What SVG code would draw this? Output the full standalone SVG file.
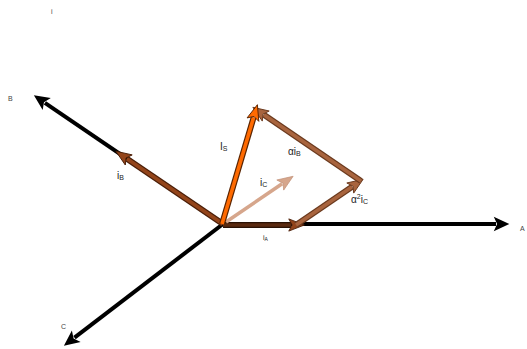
<svg xmlns="http://www.w3.org/2000/svg" width="527" height="349" viewBox="0 0 527 349">
<style>
.ax{stroke:#000;stroke-width:4;fill:none}
.out{stroke-width:6;fill:none;stroke-linecap:butt}
.in{stroke-width:3.6;fill:none;stroke-linecap:butt}
text{font-family:"Liberation Sans",Arial,sans-serif;fill:#222}
.lb{font-size:10px}
.sb{font-size:7px}
.tiny{font-size:7px;fill:#444}
</style>
<defs>
<marker id="mk" markerUnits="userSpaceOnUse" markerWidth="20" markerHeight="20" refX="0" refY="0" viewBox="-4 -8 18 16" orient="auto" overflow="visible">
<path d="M-2,-6.5 L12,0 L-2,6.5 L1,0 Z" fill="#000"/>
</marker>
<marker id="mbr" markerUnits="userSpaceOnUse" markerWidth="20" markerHeight="20" refX="0" refY="0" viewBox="-4 -8 18 16" orient="auto" overflow="visible">
<path d="M-2,-5.5 L12,0 L-2,5.5 L1,0 Z" fill="#A8643E" stroke="#6B3A1E" stroke-width="0.8"/>
</marker>
<marker id="mdk" markerUnits="userSpaceOnUse" markerWidth="20" markerHeight="20" refX="0" refY="0" viewBox="-4 -8 18 16" orient="auto" overflow="visible">
<path d="M-2,-5.5 L12,0 L-2,5.5 L1,0 Z" fill="#93441A" stroke="#4A1E08" stroke-width="0.8"/>
</marker>
<marker id="mor" markerUnits="userSpaceOnUse" markerWidth="20" markerHeight="20" refX="0" refY="0" viewBox="-4 -8 18 16" orient="auto" overflow="visible">
<path d="M-2,-5.5 L12,0 L-2,5.5 L1,0 Z" fill="#FF6A00" stroke="#5A2400" stroke-width="0.8"/>
</marker>
<marker id="mlt" markerUnits="userSpaceOnUse" markerWidth="20" markerHeight="20" refX="0" refY="0" viewBox="-4 -8 18 16" orient="auto" overflow="visible">
<path d="M-2,-5.5 L12,0 L-2,5.5 L1,0 Z" fill="#D6A68C" stroke="#C09078" stroke-width="0.6"/>
</marker>
</defs>
<g id="connectors">
<g id="axes">
<line class="ax" x1="223" y1="224" x2="496" y2="224" marker-end="url(#mk)"/>
<line class="ax" x1="223" y1="224" x2="44.9" y2="102.8" marker-end="url(#mk)"/>
<line class="ax" x1="223" y1="224" x2="74.5" y2="337.7" marker-end="url(#mk)"/>
</g>
<g id="iA">
<line class="out" stroke="#2a1205" x1="223" y1="225" x2="291" y2="225"/>
<line class="in" stroke="#5a2a10" x1="223" y1="225" x2="291" y2="225" marker-end="url(#mdk)"/>
</g>
<g id="iB">
<line class="out" stroke="#4A1E08" x1="223" y1="224" x2="126.9" y2="158.7"/>
<line class="in" stroke="#93441A" x1="223" y1="224" x2="126.9" y2="158.7" marker-end="url(#mdk)"/>
</g>
<g id="iC">
<line class="in" stroke="#D6A68C" stroke-width="4.5" x1="226" y1="222" x2="282.1" y2="183.8" marker-end="url(#mlt)"/>
</g>
<g id="a2iC">
<line class="out" stroke="#6B3A1E" x1="296" y1="225" x2="352.1" y2="186.8"/>
<line class="in" stroke="#A8643E" x1="296" y1="225" x2="352.1" y2="186.8" marker-end="url(#mbr)"/>
</g>
<g id="aiB">
<line class="out" stroke="#6B3A1E" x1="361" y1="181" x2="263.9" y2="114.8"/>
<line class="in" stroke="#A8643E" x1="361" y1="181" x2="263.9" y2="114.8" marker-end="url(#mbr)"/>
</g>
<g id="Is">
<line class="out" stroke="#5A2400" x1="222" y1="224" x2="253.6" y2="117.5"/>
<line class="in" stroke="#FF6A00" x1="222" y1="224" x2="253.6" y2="117.5" marker-end="url(#mor)"/>
</g>
</g>
<g id="labels">
<text class="tiny" x="51" y="14" font-size="6">i</text>
<text class="tiny" x="8" y="101">B</text>
<text class="tiny" x="520" y="231">A</text>
<text class="tiny" x="61" y="329">C</text>
<text class="lb" x="220" y="150" font-size="11">I<tspan class="sb" dy="1">S</tspan></text>
<text class="lb" x="117" y="179">i<tspan class="sb" dy="1">B</tspan></text>
<text class="lb" x="288" y="155">αi<tspan class="sb" dy="1">B</tspan></text>
<text class="lb" x="260" y="186">i<tspan class="sb" dy="1">C</tspan></text>
<text class="lb" x="351" y="203">α<tspan font-size="7" dy="-4">2</tspan><tspan dy="4">i</tspan><tspan class="sb" dy="1">C</tspan></text>
<text x="263" y="240" font-size="7" fill="#444">i<tspan font-size="5" dy="1">A</tspan></text>
</g>
</svg>
